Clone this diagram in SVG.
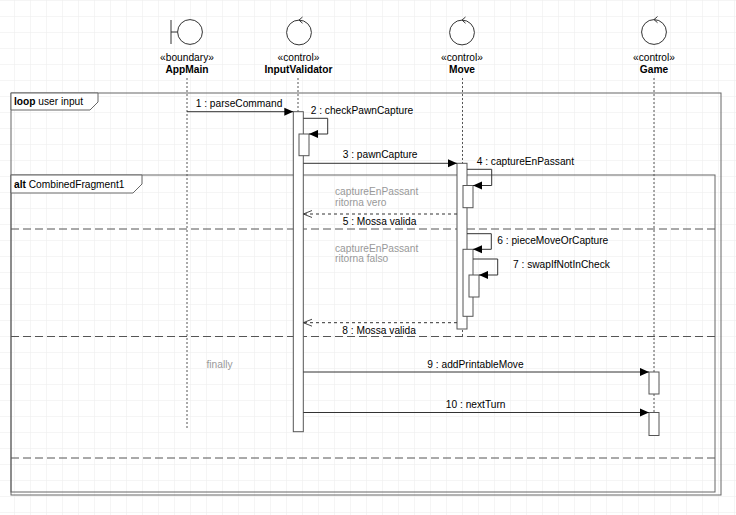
<svg xmlns="http://www.w3.org/2000/svg" width="736" height="515" viewBox="0 0 736 515">
<defs>
<pattern id="grid" x="14" y="0" width="16" height="16" patternUnits="userSpaceOnUse">
<path d="M0 0H16M0 0V16" fill="none" stroke="#ebebeb" stroke-width="1"/>
</pattern>
<marker id="block" viewBox="0 0 10 10" refX="10" refY="5" markerWidth="9" markerHeight="9" markerUnits="userSpaceOnUse" orient="auto">
<path d="M0 0.5L10 5L0 9.5Z" fill="#000"/>
</marker>
<marker id="open" viewBox="0 0 10 10" refX="10" refY="5" markerWidth="9" markerHeight="9" markerUnits="userSpaceOnUse" orient="auto">
<path d="M0 1L10 5L0 9" fill="none" stroke="#333" stroke-width="1"/>
</marker>
</defs>
<style>
text{font-family:"Liberation Sans",Arial,Helvetica,sans-serif;font-size:10.2px;fill:#000}
.b{font-weight:bold}
.c{text-anchor:middle}
.g{fill:#999}
.icon{fill:#fff;stroke:#333;stroke-width:1}
.life{stroke:#555;stroke-width:1;stroke-dasharray:2 2;fill:none}
.act{fill:#fff;stroke:#555;stroke-width:1}
.frame{fill:none;stroke:#666;stroke-width:1}
.tab{fill:#fff;stroke:#666;stroke-width:1}
.sep{stroke:#555;stroke-width:1;stroke-dasharray:8 4;fill:none}
.msg{fill:none;stroke:#333;stroke-width:1;marker-end:url(#block)}
.ret{fill:none;stroke:#333;stroke-width:1;stroke-dasharray:3 3;marker-end:url(#open)}
</style>
<rect width="736" height="515" fill="#fff"/>
<rect width="736" height="515" fill="url(#grid)"/>

<g id="frames">
<rect class="frame" x="11" y="93" width="710" height="402"/>
<path class="tab" d="M11 93H98V102L90 110H11Z"/>
<text x="14" y="104.5"><tspan class="b">loop</tspan> user input</text>
<rect class="frame" x="11" y="175" width="704" height="317"/>
<path class="tab" d="M11 175H142V184L133 193H11Z"/>
<text x="14" y="187.5"><tspan class="b">alt</tspan> CombinedFragment1</text>
<line class="sep" x1="11" y1="229" x2="715" y2="229"/>
<line class="sep" x1="11" y1="336.5" x2="715" y2="336.5"/>
<line class="sep" x1="11" y1="458" x2="715" y2="458"/>
<text class="g" x="335" y="194.5">captureEnPassant</text>
<text class="g" x="335" y="205.5">ritorna vero</text>
<text class="g" x="335" y="252">captureEnPassant</text>
<text class="g" x="335" y="262">ritorna falso</text>
<text class="g" x="206.5" y="367.5">finally</text>
</g>

<g id="AppMain">
<line class="life" x1="187" y1="78" x2="187" y2="430"/>
<line x1="171" y1="20" x2="171" y2="44" stroke="#333"/>
<line x1="171" y1="32" x2="177.5" y2="32" stroke="#333"/>
<circle class="icon" cx="190" cy="32" r="12.4"/>
<text class="c" x="187" y="60.5">«boundary»</text>
<text class="c b" x="187" y="72.5">AppMain</text>
</g>

<g id="InputValidator">
<line class="life" x1="298" y1="78" x2="298" y2="112"/>
<circle class="icon" cx="299" cy="32.5" r="12.4"/>
<path d="M302.5 17L299 20.1L302.5 23.2" fill="none" stroke="#333"/>
<text class="c" x="298.5" y="60.5">«control»</text>
<text class="c b" x="298.5" y="72.5">InputValidator</text>
<rect class="act" x="293.3" y="111.7" width="10" height="320"/>
<rect class="act" x="299" y="134" width="10" height="21.7"/>
</g>

<g id="Move">
<line class="life" x1="462.5" y1="78" x2="462.5" y2="336"/>
<circle class="icon" cx="462" cy="32.5" r="12.4"/>
<path d="M465.5 17L462 20.1L465.5 23.2" fill="none" stroke="#333"/>
<text class="c" x="462" y="60.5">«control»</text>
<text class="c b" x="462" y="72.5">Move</text>
<rect class="act" x="457" y="163.3" width="10" height="165.7"/>
<rect class="act" x="463" y="185.5" width="10" height="22.2"/>
<rect class="act" x="463" y="249.3" width="10" height="67"/>
<rect class="act" x="469" y="275" width="10" height="22"/>
</g>

<g id="Game">
<line class="life" x1="654" y1="78" x2="654" y2="372"/>
<line class="life" x1="654" y1="394" x2="654" y2="412"/>
<circle class="icon" cx="654" cy="32" r="12.4"/>
<path d="M657.5 16.5L654 19.6L657.5 22.7" fill="none" stroke="#333"/>
<text class="c" x="654" y="60.5">«control»</text>
<text class="c b" x="654" y="72.5">Game</text>
<rect class="act" x="649" y="372" width="10" height="22"/>
<rect class="act" x="649" y="412.5" width="10" height="23"/>
</g>

<g id="connectors">
<path class="msg" d="M187 111.7H293.3"/>
<text x="195.7" y="107">1 : parseCommand</text>
<path class="msg" d="M303.3 118.3H327.7V134H309"/>
<text x="310.7" y="113.5">2 : checkPawnCapture</text>
<path class="msg" d="M303.3 163.3H457"/>
<text x="342.7" y="158">3 : pawnCapture</text>
<path class="msg" d="M467 169.3H491.7V185.5H473"/>
<text x="476.7" y="164.5">4 : captureEnPassant</text>
<path class="ret" d="M457 214H303.3"/>
<text x="342.7" y="225">5 : Mossa valida</text>
<path class="msg" d="M467 233.7H491.3V249.3H473"/>
<text x="497.3" y="244">6 : pieceMoveOrCapture</text>
<path class="msg" d="M473 259H497.7V275H479"/>
<text x="513" y="267.5">7 : swapIfNotInCheck</text>
<path class="ret" d="M457 322.7H303.3"/>
<text x="342.3" y="334">8 : Mossa valida</text>
<path class="msg" d="M303.3 372H649"/>
<text class="c" x="475.5" y="367.5">9 : addPrintableMove</text>
<path class="msg" d="M303.3 412.5H649"/>
<text class="c" x="475.7" y="407.5">10 : nextTurn</text>
</g>
</svg>
